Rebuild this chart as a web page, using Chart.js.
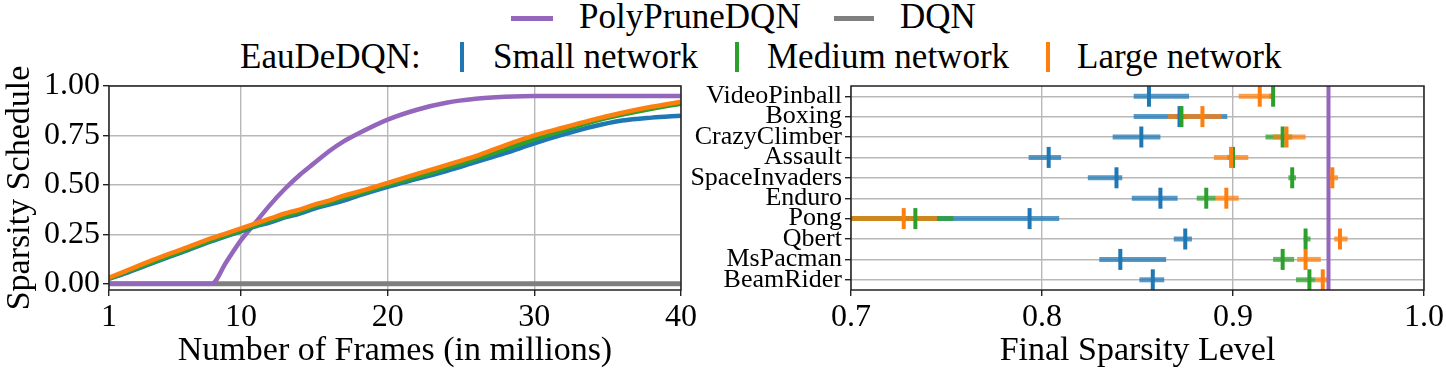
<!DOCTYPE html>
<html>
<head>
<meta charset="utf-8">
<script src="https://cdn.jsdelivr.net/npm/chart.js@4/dist/chart.umd.min.js"></script>
<style>
  html, body { margin: 0; padding: 0; background: #ffffff; }
  #wrap { position: relative; width: 1446px; height: 371px; overflow: hidden; background: #fff;
          font-family: "Liberation Serif", "DejaVu Serif", serif; color: #000; }
  canvas { position: absolute; }
  .lg { position: absolute; font-size: 35px; line-height: 40px; white-space: nowrap; }
  .hline { position: absolute; height: 5px; }
  .vtick { position: absolute; width: 4px; height: 30px; }
</style>
</head>
<body>
<div id="wrap">
  <div class="hline" style="left:511px; top:16px; width:42px; background:#9467bd;"></div>
  <div class="lg" style="left:579px; top:-3px;">PolyPruneDQN</div>
  <div class="hline" style="left:834px; top:16px; width:40px; background:#7f7f7f;"></div>
  <div class="lg" style="left:900px; top:-3px;">DQN</div>

  <div class="lg" style="left:240px; top:37px;">EauDeDQN:</div>
  <div class="vtick" style="left:460px; top:42px; background:#1f77b4;"></div>
  <div class="lg" style="left:493px; top:37px;">Small network</div>
  <div class="vtick" style="left:735px; top:42px; background:#2ca02c;"></div>
  <div class="lg" style="left:767px; top:37px;">Medium network</div>
  <div class="vtick" style="left:1046px; top:42px; background:#ff7f0e;"></div>
  <div class="lg" style="left:1077px; top:37px;">Large network</div>

  <canvas id="left" width="720" height="331" style="left:0px; top:40px;"></canvas>
  <canvas id="right" width="756" height="331" style="left:690px; top:40px;"></canvas>
</div>
<script>
// ---------------- Left panel data ----------------
const frames = [1, 2, 4, 6, 8, 9, 10, 11, 12, 13, 14, 15, 16, 17, 18, 20, 22, 24, 26, 28, 30, 32, 34, 36, 38, 40];
const polyPrune = [0, 0, 0, 0, 0, 0.11, 0.22, 0.31, 0.40, 0.48, 0.55, 0.61, 0.67, 0.72, 0.76, 0.83, 0.88, 0.915, 0.935, 0.945, 0.95, 0.95, 0.95, 0.95, 0.95, 0.95];
const dqn = [0, 0, 0, 0, 0, 0, 0, 0, 0, 0, 0, 0, 0, 0, 0, 0, 0, 0, 0, 0, 0, 0, 0, 0, 0, 0];
const smallNet = [0.025, 0.05, 0.105, 0.16, 0.215, 0.24, 0.265, 0.29, 0.31, 0.335, 0.355, 0.38, 0.40, 0.42, 0.445, 0.49, 0.53, 0.57, 0.615, 0.66, 0.71, 0.755, 0.795, 0.825, 0.84, 0.85];
const mediumNet = [0.025, 0.055, 0.11, 0.165, 0.22, 0.245, 0.27, 0.295, 0.32, 0.34, 0.365, 0.39, 0.41, 0.435, 0.455, 0.50, 0.54, 0.585, 0.63, 0.68, 0.73, 0.775, 0.82, 0.855, 0.885, 0.91];
const largeNet = [0.03, 0.06, 0.12, 0.175, 0.23, 0.255, 0.28, 0.305, 0.33, 0.355, 0.375, 0.40, 0.42, 0.445, 0.465, 0.51, 0.555, 0.60, 0.645, 0.70, 0.75, 0.79, 0.83, 0.865, 0.895, 0.92];
const leftXTicks = [1, 10, 20, 30, 40];
const leftYTicks = [0, 0.25, 0.5, 0.75, 1.0];

// ---------------- Right panel data ----------------
const games = ['VideoPinball', 'Boxing', 'CrazyClimber', 'Assault', 'SpaceInvaders', 'Enduro', 'Pong', 'Qbert', 'MsPacman', 'BeamRider'];
const smallMean = [0.856, 0.872, 0.852, 0.8035, 0.839, 0.862, 0.7935, 0.875, 0.841, 0.858];
const smallLow  = [0.848, 0.848, 0.837, 0.793, 0.824, 0.847, 0.69, 0.869, 0.830, 0.851];
const smallHigh = [0.877, 0.897, 0.862, 0.810, 0.842, 0.871, 0.809, 0.8785, 0.865, 0.864];
const mediumMean = [0.921, 0.873, 0.926, 0.900, 0.931, 0.886, 0.7337, 0.938, 0.926, 0.940];
const mediumLow  = [0.919, 0.870, 0.917, 0.897, 0.929, 0.881, 0.69, 0.937, 0.921, 0.933];
const mediumHigh = [0.922, 0.876, 0.931, 0.901, 0.933, 0.891, 0.7536, 0.9406, 0.932, 0.943];
const largeMean = [0.914, 0.884, 0.928, 0.899, 0.952, 0.8965, 0.7276, 0.956, 0.938, 0.947];
const largeLow  = [0.903, 0.866, 0.921, 0.890, 0.950, 0.891, 0.69, 0.953, 0.9336, 0.943];
const largeHigh = [0.921, 0.894, 0.938, 0.908, 0.955, 0.903, 0.745, 0.960, 0.946, 0.950];
const polyPruneFinal = 0.95;
const rightXTicks = [0.7, 0.8, 0.9, 1.0];

const COLORS = { small: '#1f77b4', medium: '#2ca02c', large: '#ff7f0e', poly: '#9467bd', dqn: '#7f7f7f' };
const FONT = "'Liberation Serif', 'DejaVu Serif', serif";
Chart.defaults.font.family = FONT;
Chart.defaults.color = '#000';

const framePlugin = {
  id: 'frame',
  afterDatasetsDraw(chart) {
    const { ctx, chartArea: a } = chart;
    ctx.save();
    ctx.strokeStyle = '#222';
    ctx.lineWidth = 1.5;
    ctx.strokeRect(a.left, a.top, a.right - a.left, a.bottom - a.top);
    ctx.restore();
  }
};

function fixedTicks(arr) {
  return (scale) => { scale.ticks = arr.map(v => ({ value: v })); };
}
function fitW(w) { return (s) => { s.width = w; s.paddingTop = 0; s.paddingBottom = 0; s.paddingLeft = 0; s.paddingRight = 0; }; }
function fitH(h) { return (s) => { s.height = h; s.paddingTop = 0; s.paddingBottom = 0; s.paddingLeft = 0; s.paddingRight = 0; }; }

const gridCommon = { color: '#b8b8b8', lineWidth: 1.4, tickColor: '#222', tickLength: 6, tickWidth: 1.4 };

// ---------------- Left chart ----------------
function lineDs(label, data, color, order, width) {
  return {
    label, order,
    data: frames.map((f, i) => ({ x: f, y: data[i] })),
    borderColor: color, backgroundColor: color,
    borderWidth: width, pointRadius: 0, showLine: true,
    cubicInterpolationMode: 'monotone', fill: false
  };
}
new Chart(document.getElementById('left'), {
  type: 'scatter',
  data: {
    datasets: [
      lineDs('DQN', dqn, COLORS.dqn, 5, 5),
      lineDs('PolyPruneDQN', polyPrune, COLORS.poly, 4, 4.5),
      lineDs('Small network', smallNet, COLORS.small, 3, 4.5),
      lineDs('Medium network', mediumNet, COLORS.medium, 2, 4.5),
      lineDs('Large network', largeNet, COLORS.large, 1, 4.5)
    ]
  },
  options: {
    responsive: false, animation: false, devicePixelRatio: 1,
    layout: { autoPadding: false, padding: { top: 46, right: 39, left: 0, bottom: 0 } },
    plugins: { legend: { display: false }, tooltip: { enabled: false } },
    events: [],
    scales: {
      x: {
        type: 'linear', min: 1, max: 40,
        afterBuildTicks: fixedTicks(leftXTicks),
        afterFit: fitH(81),
        border: { display: false },
        grid: gridCommon,
        ticks: { font: { size: 32 }, padding: 2, maxRotation: 0, callback: v => String(v) },
        title: { display: true, text: 'Number of Frames (in millions)', font: { size: 34 }, padding: { top: 0, bottom: 0 } }
      },
      y: {
        type: 'linear', min: -0.032, max: 1.0,
        afterBuildTicks: fixedTicks(leftYTicks),
        afterFit: fitW(109),
        border: { display: false },
        grid: gridCommon,
        ticks: { font: { size: 32 }, padding: 3, callback: v => Number(v).toFixed(2) },
        title: { display: true, text: 'Sparsity Schedule', font: { size: 34 }, padding: { top: 0, bottom: 0 } }
      }
    }
  },
  plugins: [framePlugin]
});

// ---------------- Right chart ----------------
const errorBarPlugin = {
  id: 'errbars',
  beforeDatasetsDraw(chart) {
    const { ctx, chartArea: a, scales: { x, y } } = chart;
    const series = [
      [smallLow, smallHigh, COLORS.small],
      [mediumLow, mediumHigh, COLORS.medium],
      [largeLow, largeHigh, COLORS.large]
    ];
    ctx.save();
    ctx.beginPath();
    ctx.rect(a.left, a.top, a.right - a.left, a.bottom - a.top);
    ctx.clip();
    ctx.globalAlpha = 0.75;
    ctx.lineWidth = 5;
    ctx.lineCap = 'butt';
    series.forEach(([lo, hi, color]) => {
      ctx.strokeStyle = color;
      games.forEach((g, i) => {
        const yy = y.getPixelForValue(i);
        ctx.beginPath();
        ctx.moveTo(x.getPixelForValue(lo[i]), yy);
        ctx.lineTo(x.getPixelForValue(hi[i]), yy);
        ctx.stroke();
      });
    });
    ctx.restore();
  }
};
function markerDs(label, means, color, order) {
  return {
    label, order,
    data: games.map((g, i) => ({ x: means[i], y: i })),
    pointStyle: 'line', rotation: 90, pointRadius: 10.5,
    pointBorderWidth: 4, borderColor: color, backgroundColor: color,
    pointBorderColor: color, showLine: false
  };
}
new Chart(document.getElementById('right'), {
  type: 'scatter',
  data: {
    datasets: [
      {
        label: 'PolyPruneDQN', order: 3,
        data: [{ x: polyPruneFinal, y: -0.5 }, { x: polyPruneFinal, y: games.length - 0.5 }],
        borderColor: COLORS.poly, backgroundColor: COLORS.poly, borderWidth: 4,
        pointRadius: 0, showLine: true
      },
      markerDs('Small network', smallMean, COLORS.small, 2),
      markerDs('Medium network', mediumMean, COLORS.medium, 1),
      markerDs('Large network', largeMean, COLORS.large, 0)
    ]
  },
  options: {
    responsive: false, animation: false, devicePixelRatio: 1,
    layout: { autoPadding: false, padding: { top: 46, right: 22, left: 0, bottom: 0 } },
    plugins: { legend: { display: false }, tooltip: { enabled: false } },
    events: [],
    scales: {
      x: {
        type: 'linear', min: 0.7, max: 1.0,
        afterBuildTicks: fixedTicks(rightXTicks),
        afterFit: fitH(81),
        border: { display: false },
        grid: gridCommon,
        ticks: { font: { size: 32 }, padding: 2, maxRotation: 0, callback: v => Number(v).toFixed(1) },
        title: { display: true, text: 'Final Sparsity Level', font: { size: 34 }, padding: { top: 0, bottom: 0 } }
      },
      y: {
        type: 'linear', min: -0.5, max: games.length - 0.5, reverse: true,
        afterBuildTicks: fixedTicks(games.map((g, i) => i)),
        afterFit: fitW(161),
        border: { display: false },
        grid: gridCommon,
        ticks: { font: { size: 26 }, padding: 3, autoSkip: false, callback: v => games[v] }
      }
    }
  },
  plugins: [errorBarPlugin, framePlugin]
});
</script>
</body>
</html>
